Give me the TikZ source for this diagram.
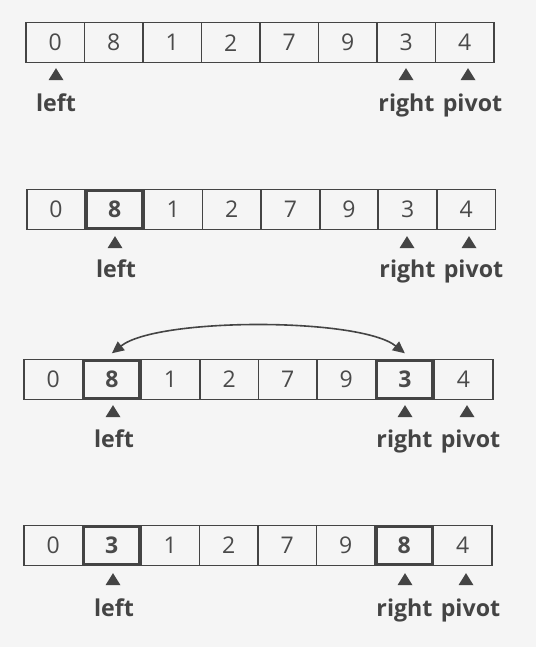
\documentclass[tikz,border=0pt]{standalone}
\usepackage{fontspec}
\setmainfont{Open Sans}
\usetikzlibrary{arrows.meta,shapes.geometric}
\definecolor{bg}{HTML}{F5F5F5}
\definecolor{ink}{HTML}{444444}
\definecolor{digit}{HTML}{4A4A4A}
\tikzset{
  cell/.style={draw=ink, line width=1.6pt, minimum width=58.5pt, minimum height=40pt, inner sep=0pt, outer sep=0pt, font=\fontsize{23}{23}\selectfont, text=digit},
  hl/.style={cell, minimum width=56pt, minimum height=37.5pt, line width=3pt, font=\fontsize{23}{23}\bfseries\selectfont},
  tri/.style={fill=ink, draw=none, isosceles triangle, isosceles triangle apex angle=64, shape border rotate=90, minimum width=15pt, minimum height=12pt, inner sep=0pt},
  lbl/.style={font=\fontsize{23.2}{23.2}\bfseries\selectfont, text=ink, anchor=base, inner sep=0pt},
  swap/.style={<->, >={Triangle[length=12pt,width=11pt]}, draw=ink, line width=1.6pt}
}
\begin{document}
\begin{tikzpicture}[x=1pt,y=-1pt]
\fill[bg] (0,0) rectangle (536,647);
\useasboundingbox (0,0) rectangle (536,647);
% row 1
\foreach \v [count=\i from 0] in {0,8,1,2,7,9,3,4} {
  \node[cell] (a\i) at ({26+58.5*\i+29.25},42.7) {\v};
}
\node[tri] (ta0) at (56,76) {};
\node[tri] (ta6) at (406,76) {};
\node[tri] (ta7) at (468,76) {};
\node[lbl] (la0) at (56,112) {left};
\node[lbl] (la6) at (406.5,112) {right};
\node[lbl] (la7) at (472.5,112) {pivot};
% row 2
\foreach \v [count=\i from 0] in {0,8,1,2,7,9,3,4} {
  \node[cell] (b\i) at ({26.7+58.6*\i+29.3},209.5) {\ifnum\i=1 \textbf{\v}\else\v\fi};
}
\node[hl] (bh1) at (b1) {};
\node[tri] (tb1) at (115,244) {};
\node[tri] (tb6) at (407,244) {};
\node[tri] (tb7) at (469,244) {};
\node[lbl] (lb1) at (116,277.5) {left};
\node[lbl] (lb6) at (407.5,277.5) {right};
\node[lbl] (lb7) at (473.5,277.5) {pivot};
% row 3
\foreach \v [count=\i from 0] in {0,8,1,2,7,9,3,4} {
  \node[cell] (c\i) at ({24+58.6*\i+29.3},379.3) {\ifnum\i=1 \textbf{\v}\else\ifnum\i=6 \textbf{\v}\else\v\fi\fi};
}
\node[hl] (ch1) at (c1) {};
\node[hl] (ch6) at (c6) {};
\coordinate (s1) at ([yshift=6pt]c1.north);
\coordinate (s6) at ([yshift=6pt]c6.north);
\draw[swap] (s1) .. controls +(45,-36) and +(-45,-36) .. (s6);
\node[tri] (tc1) at (113,413) {};
\node[tri] (tc6) at (405,413) {};
\node[tri] (tc7) at (467,413) {};
\node[lbl] (lc1) at (114,447) {left};
\node[lbl] (lc6) at (404.5,447) {right};
\node[lbl] (lc7) at (470.5,447) {pivot};
% row 4
\foreach \v [count=\i from 0] in {0,3,1,2,7,9,8,4} {
  \node[cell] (d\i) at ({24+58.5*\i+29.25},545.3) {\ifnum\i=1 \textbf{\v}\else\ifnum\i=6 \textbf{\v}\else\v\fi\fi};
}
\node[hl] (dh1) at (d1) {};
\node[hl] (dh6) at (d6) {};
\node[tri] (td1) at (113,581) {};
\node[tri] (td6) at (405,581) {};
\node[tri] (td7) at (466,581) {};
\node[lbl] (ld1) at (114,616) {left};
\node[lbl] (ld6) at (404.5,616) {right};
\node[lbl] (ld7) at (470.5,616) {pivot};
\end{tikzpicture}
\end{document}
